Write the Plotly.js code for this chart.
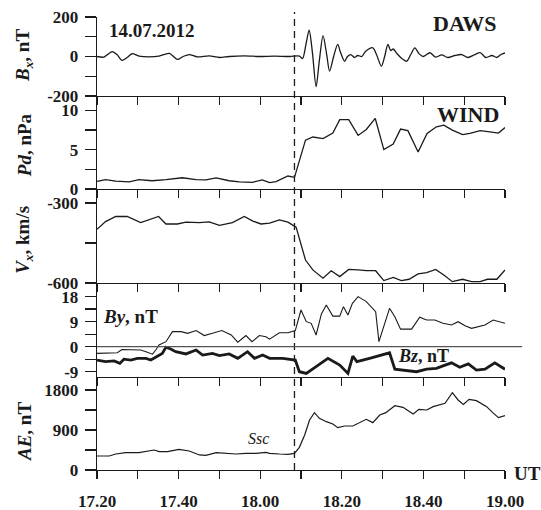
<!DOCTYPE html>
<html>
<head>
<meta charset="utf-8">
<script src="https://cdn.plot.ly/plotly-3.0.1.min.js"></script>
<style>html,body{margin:0;padding:0;background:#fff;}#chart{width:541px;height:510px;}</style>
</head>
<body>
<div id="chart"></div>
<script>
// time: minutes after 17:00 UT
const tBx = [20,21.7,23.7,24.9,26.1,27.4,28.6,30.3,32.8,35.2,37.7,39.7,41.1,42.6,44.6,47.5,50,52.4,56.1,59.8,63.5,67.2,69.6,70.4,71.2,72,72.8,73.7,74.5,75.4,76.3,77,78,79,79.7,80.7,81.4,82.2,83.1,83.9,84.9,85.8,87.6,88.5,89.7,90.5,91.3,92,92.6,93.5,94.7,95.9,96.9,97.9,98.9,99.9,101.6,103,104.5,106,107.7,109.4,110.9,112.6,113.9,115.3,116.8,118,119,120];
const bx = [0,-3,25,10,-20,-5,14,2,-2,2,16,-15,0,10,-2,3,-5,0,3,0,2,0,2,-10,60,133,20,-153,-20,106,10,-74,0,61,20,-24,0,10,-5,5,0,25,44,10,-49,0,61,30,38,15,-10,-24,10,44,15,0,19,-3,8,-5,5,10,-5,10,20,-5,5,-5,10,18];

const tPd = [20,22.1,24.6,27.9,30.3,33.5,36.9,40.9,44.3,46.7,49.2,52.4,54.9,58.1,60.5,62.3,63.9,65.5,66.8,68.4,71.1,72.9,75.4,77.8,79.5,81.7,84,86,88.2,90.3,92.6,94.4,96.2,98.7,100.9,103.2,105,107.1,109.6,111.4,113.9,116.3,118.4,120];
const pd = [0.97,1.2,1.0,0.9,1.2,1.05,1.2,1.43,1.2,1.15,1.4,1.05,0.9,0.85,1.15,0.8,0.93,1.35,1.65,1.48,6.2,6.6,6.4,7.1,8.8,8.8,6.8,7.55,8.95,5.0,5.7,7.6,7.4,4.7,7.05,7.9,8.1,7.47,6.9,7.05,7.4,7.25,7.1,7.8];

const tVx = [20,22.1,24.6,27.4,30.7,32.8,35.1,36.9,39.7,41.8,45.1,47.5,50,53.2,56.1,58.2,60.2,62.3,64.7,66.8,68.8,71.1,72.9,75.4,77.4,79.5,81.7,84,86,88.3,90.3,92.6,94.6,96.5,98.7,100.8,103,105,107.1,109.6,111.8,113.9,115.7,118,120];
const vx = [-399,-370,-351,-351,-374,-364,-351,-379,-379,-372,-374,-371,-384,-374,-351,-368,-379,-376,-364,-372,-391,-514,-551,-582,-554,-576,-549,-551,-554,-554,-591,-579,-591,-586,-566,-561,-549,-570,-595,-586,-595,-595,-586,-586,-551];

const tBy = [20,23,25,26.1,28.6,30.7,32,33.6,34.4,35.2,36.9,38.5,40.6,42.2,44.3,46.3,48.3,50.6,52.9,54.5,56.5,58,59.8,61.4,62.3,64.7,66.8,68.6,70,71.3,72.5,73.7,75,76.2,77.8,79.5,80.4,81.5,82.6,84,86,88.3,89.1,90.5,91.7,93,94.4,97.1,99.1,100.8,102.8,104.8,106.9,108.5,110.2,111.8,113.4,115.1,117.1,118.8,120];
const by = [-2.4,-2.2,-2.2,-1,-1.2,-1.2,-1.8,-2.7,-1.2,0.6,1.8,5.4,5.4,4.8,5.8,4,4.8,5.8,4.2,1.6,4,1.8,4,3.6,2.7,5,5,5.8,13.2,9,8.4,4.2,11.8,15,11,11,14.4,11.4,15.6,18,16.2,12.6,1.8,8.4,13.8,10.8,6.3,6.3,10.6,9.6,9.6,8.4,7.8,9,7.5,6.6,7.2,7.8,9.6,8.8,8.4];

const tBz = [20,22.1,24.2,25.6,26.6,28.3,29.9,32,33.2,34.8,36,36.9,37.7,39.3,41.8,44.3,45.9,48.3,50,52.4,54.5,56.9,58.6,60.6,62.3,65.5,68.6,69.6,71.3,73.7,76.6,79.5,81.5,82.7,83.7,86.8,91.7,93,95,98.3,100.8,103.2,104.8,106.9,108.9,111,113,115.1,117.5,120];
const bz = [-4.8,-5.4,-5.1,-6,-4.5,-4.8,-4.2,-4.2,-4.8,-3.6,-2.4,-0.2,-0.6,-1.8,-2.6,-1.2,-3,-2.4,-3.2,-2.6,-4.2,-1.8,-4.2,-3,-4.2,-4.2,-4.8,-9,-9.6,-7.2,-4.2,-6.6,-9.6,-3.4,-5.4,-4.2,-2.2,-8.1,-8.4,-9,-8.1,-7.8,-6.9,-5.8,-7.4,-6.2,-8.4,-8.1,-5.8,-8.1];

const tAE = [20,23,24.6,27,30.3,32,34,35.2,37.3,40.1,42.6,45.1,46.7,49.2,51.6,54.1,56.5,59,61.4,62.3,64.7,66.8,68.4,69.6,70.9,72.1,73.3,74.5,76.2,77.8,79,80.7,82.7,84.2,86,87.6,89.3,90.8,93,95,97.5,98.9,100.8,102.4,105.3,107.1,108.5,109.8,111.2,113,115.5,117,118.4,120];
const ae = [315,315,360,390,390,413,450,413,413,465,428,338,330,390,375,360,375,375,397,375,360,352,375,510,788,1125,1290,1162,1087,1035,952,990,990,1050,1140,1065,1237,1290,1447,1410,1260,1365,1350,1425,1500,1740,1575,1477,1590,1560,1425,1290,1177,1222];

const xTickVals = [20,30,40,50,60,70,80,90,100,110,120];
const xTickText = ['17.20','','17.40','','18.00','','18.20','','18.40','','19.00'];
const sscTime = 68.4;

const ink = '#1a1a1a';
const serif = 'Liberation Serif, Times New Roman, serif';

const traces = [
  {x: tBx, y: bx, xaxis: 'x5', yaxis: 'y5', mode: 'lines', line: {color: ink, width: 1.3, shape: 'spline', smoothing: 0.8}},
  {x: tPd, y: pd, xaxis: 'x4', yaxis: 'y4', mode: 'lines', line: {color: ink, width: 1.3}},
  {x: tVx, y: vx, xaxis: 'x3', yaxis: 'y3', mode: 'lines', line: {color: ink, width: 1.3}},
  {x: tBy, y: by, xaxis: 'x2', yaxis: 'y2', mode: 'lines', line: {color: ink, width: 1.1}},
  {x: tBz, y: bz, xaxis: 'x2', yaxis: 'y2', mode: 'lines', line: {color: ink, width: 2.8}},
  {x: tAE, y: ae, xaxis: 'x', yaxis: 'y', mode: 'lines', line: {color: ink, width: 1.2}}
];

const xBase = {
  domain: [0, 1], range: [20, 120], tickmode: 'array', tickvals: xTickVals, ticktext: xTickText,
  ticks: 'outside', ticklen: 8, tickwidth: 1.3, tickcolor: ink,
  showline: true, linewidth: 1.3, linecolor: ink, showgrid: false, zeroline: false,
  tickfont: {family: serif, size: 17, weight: 'bold', color: ink}, fixedrange: true
};
function yAx(domain, range, vals, text) {
  return {
    domain: domain, range: range, tickmode: 'array', tickvals: vals, ticktext: text,
    ticks: 'outside', ticklen: 11, tickwidth: 1.3, tickcolor: ink, ticklabelstandoff: 3,
    showline: true, linewidth: 1.3, linecolor: ink, showgrid: false, zeroline: false,
    tickfont: {family: serif, size: 17, weight: 'bold', color: ink}, fixedrange: true
  };
}

function ann(text, x, y, size, extra) {
  return Object.assign({text: text, xref: 'paper', yref: 'paper', x: x, y: y, showarrow: false,
    xanchor: 'center', yanchor: 'middle', font: {family: serif, size: size, weight: 'bold', color: ink}}, extra || {});
}

const layout = {
  width: 541, height: 510,
  margin: {l: 97, r: 36, t: 17, b: 40},
  paper_bgcolor: '#fff', plot_bgcolor: 'rgba(0,0,0,0)',
  showlegend: false,
  xaxis: Object.assign({}, xBase, {anchor: 'y', ticklabelstandoff: 7}),
  xaxis2: Object.assign({}, xBase, {anchor: 'y2', matches: 'x', showticklabels: false}),
  xaxis3: Object.assign({}, xBase, {anchor: 'y3', matches: 'x', showticklabels: false}),
  xaxis4: Object.assign({}, xBase, {anchor: 'y4', matches: 'x', showticklabels: false}),
  xaxis5: Object.assign({}, xBase, {anchor: 'y5', matches: 'x', showticklabels: false}),
  yaxis: yAx([0, 0.2053], [0, 2092], [0, 450, 900, 1350, 1800], ['0', '', '900', '', '1800']),
  yaxis2: yAx([0.2053, 0.4128], [-10.9, 22.9], [-9, -4.5, 0, 4.5, 9, 13.5, 18], ['-9', '', '0', '', '9', '', '18']),
  yaxis3: yAx([0.4128, 0.6203], [-600, -248], [-600, -450, -300], ['-600', '', '-300']),
  yaxis4: yAx([0.6203, 0.8256], [0, 11.8], [0, 2.5, 5, 7.5, 10], ['0', '', '5', '', '10']),
  yaxis5: yAx([0.8256, 1], [-200, 200], [-200, -100, 0, 100, 200], ['-200', '', '0', '', '200']),
  shapes: [
    {type: 'line', xref: 'x', yref: 'paper', x0: sscTime, x1: sscTime, y0: 0, y1: 1.011,
     line: {color: ink, width: 1.3, dash: '7px,5px'}},
    {type: 'line', xref: 'paper', yref: 'y2', x0: 0, x1: 1.042, y0: 0, y1: 0,
     line: {color: '#555', width: 1.3}}
  ],
  annotations: [
    ann('<i>B<sub>x</sub></i>, nT', -0.179, 0.916, 19, {textangle: -90}),
    ann('<i>Pd</i>, nPa', -0.179, 0.717, 19, {textangle: -90}),
    ann('<i>V<sub>x</sub></i>, km/s', -0.179, 0.508, 19, {textangle: -90}),
    ann('<i>AE</i>, nT', -0.179, 0.086, 19, {textangle: -90}),
    ann('14.07.2012', 0.135, 0.971, 19),
    ann('DAWS', 0.902, 0.986, 22),
    ann('WIND', 0.909, 0.784, 22),
    ann('<i>By</i>, nT', 0.083, 0.338, 19),
    ann('<i>Bz</i>, nT', 0.801, 0.252, 18),
    ann('<i>Ssc</i>', 0.395, 0.0706, 16, {font: {family: serif, size: 16, color: ink}}),
    ann('UT', 1.054, -0.0088, 19)
  ]
};

Plotly.newPlot('chart', traces, layout, {displayModeBar: false, staticPlot: true});
</script>
</body>
</html>
